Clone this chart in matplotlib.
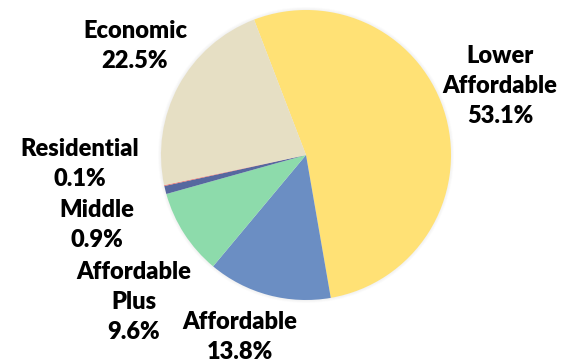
import matplotlib
matplotlib.use("Agg")
import matplotlib.pyplot as plt

categories = ["Lower\nAffordable", "Affordable", "Affordable\nPlus", "Middle", "Residential", "Economic"]
shares = [53.1, 13.8, 9.6, 0.9, 0.1, 22.5]
colors = ["#FFE175", "#6B8EC3", "#8DDBAB", "#56689F", "#E8736F", "#E6DFC4"]

# label anchor points (figure pixels, y measured from top)
label_pos = [(500, 86), (240, 337), (134, 302), (97, 225), (80, 164), (135, 46)]

W, H = 561, 364
fig = plt.figure(figsize=(W / 100, H / 100), dpi=100)
ax = fig.add_axes([0, 0, 1, 1])
ax.set_xlim(0, W)
ax.set_ylim(0, H)
ax.set_aspect("equal")
ax.axis("off")

cx, cy, r = 306, H - 155, 145

# soft rim around the pie
for i, a in enumerate([0.05, 0.04, 0.03]):
    ax.add_patch(plt.Circle((cx, cy), r + 1 + i, color="#999999", alpha=a, lw=0, zorder=0))

ax.pie(shares, colors=colors, startangle=111, counterclock=False,
       center=(cx, cy), radius=r, frame=True,
       wedgeprops=dict(linewidth=0))
ax.set_xlim(0, W)
ax.set_ylim(0, H)
ax.axis("off")

for name, val, (x, y) in zip(categories, shares, label_pos):
    ax.text(x, H - y, f"{name}\n{val:.1f}%", ha="center", va="center",
            fontsize=17, fontweight="heavy", family="Lato",
            linespacing=1.42, color="black")

fig.savefig("out.png", dpi=100)
